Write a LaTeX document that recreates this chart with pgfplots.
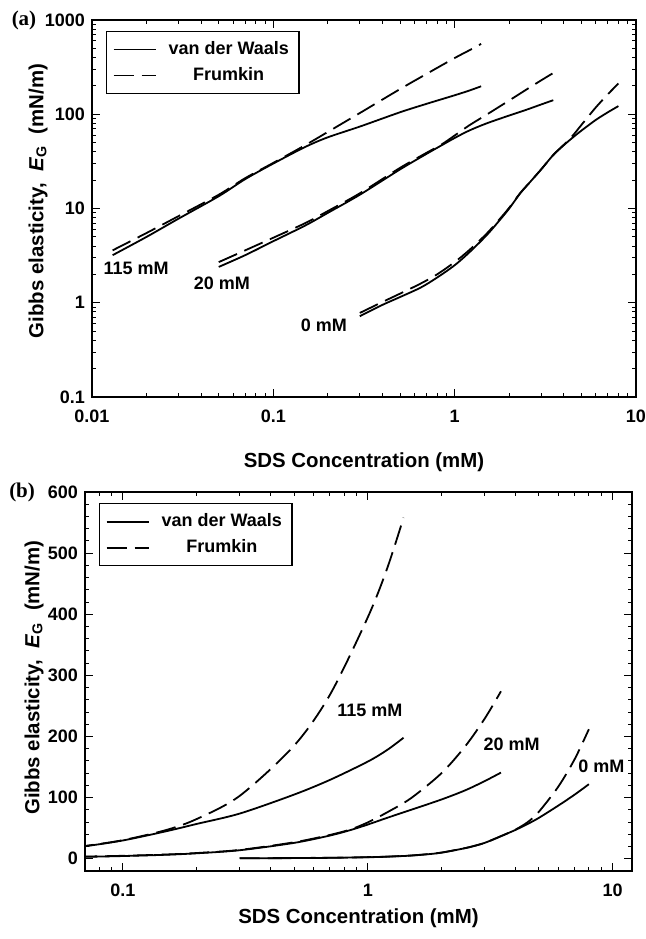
\documentclass[border=0pt]{standalone}
\usepackage{pgfplots}
\usepackage{pgfplotstable}
\pgfplotsset{compat=1.18}
\usepackage{fontspec}
\setmainfont{Liberation Sans}
\newfontfamily\serifbf{Liberation Serif}

% 115 mM
\pgfplotstableread{
x y
0.013 3.2
0.02 5.0
0.03 7.8
0.05 13.5
0.07 20.5
0.1 30
0.15 45
0.2 57
0.3 74
0.5 105
0.7 129
1.0 159
1.2 178
1.4 198
}\vdwA
\pgfplotstableread{
x y
0.013 3.6
0.02 5.5
0.03 8.3
0.05 14
0.07 21
0.1 30.5
0.15 47
0.2 65
0.3 103
0.5 185
0.7 268
1.0 395
1.2 475
1.4 558
}\frkA
% 20 mM
\pgfplotstableread{
x y
0.05 2.4
0.07 3.2
0.1 4.5
0.15 6.6
0.2 9.0
0.3 14
0.5 26
0.7 38
0.85 47
1.0 56
1.2 67
1.5 80
2.0 97
2.5 112
3.0 127
3.5 141
}\vdwB
\pgfplotstableread{
x y
0.05 2.7
0.07 3.6
0.1 4.9
0.15 7.0
0.2 9.4
0.3 14.5
0.5 27
0.7 39
0.85 48
1.0 59.5
1.2 76
1.5 99
2.0 140
2.5 184
3.0 229
3.5 274
}\frkB
% 0 mM
\pgfplotstableread{
x y
0.3 0.72
0.4 0.95
0.5 1.15
0.65 1.45
0.8 1.85
1.0 2.5
1.2 3.4
1.5 5.2
1.8 7.8
2.0 10
2.3 14.5
2.6 19
3.0 26
3.5 37
4.0 47
4.5 57
5.0 67
6.0 87
7.0 105
8.0 122
}\vdwC
\pgfplotstableread{
x y
0.3 0.78
0.4 1.02
0.5 1.25
0.65 1.6
0.8 2.0
1.0 2.7
1.2 3.6
1.5 5.4
1.8 8.0
2.0 10.2
2.3 14.6
2.6 19
3.0 26
3.5 37
4.0 47.5
4.5 60
5.0 77
6.0 118
7.0 163
8.0 212
}\frkC

\pgfplotsset{
  gibbs/.style={
    scale only axis,
    clip mode=individual,
    tick align=inside,
    major tick length=4pt, minor tick length=2pt,
    every tick/.style={black, line width=0.5pt},
    axis line style={line width=0.8pt},
    tick label style={font=\fontsize{9}{10}\selectfont\bfseries},
    xticklabel style={yshift=-3pt},
    label style={font=\fontsize{10.2}{12}\selectfont\bfseries},
    ylabel={Gibbs elasticity,\ \ \textit{E}\textsubscript{G}\ \ (mN/m)},
    xlabel={SDS Concentration (mM)},
    legend cell align=center,
    legend style={draw=black, line width=0.6pt, anchor=north west,
      font=\fontsize{9}{10}\selectfont\bfseries,
      inner xsep=3pt, inner ysep=3pt, row sep=1pt, column sep=4pt},
    legend image code/.code={\draw[##1] (0pt,0pt) -- (21pt,0pt);},
  },
  vline/.style={black, line width=0.9pt, smooth},
  fline/.style={black, line width=0.9pt, smooth, dash pattern=on 10pt off 4pt},
}

\begin{document}
\begin{tikzpicture}
\useasboundingbox (0,0) rectangle (322.5pt,-469.5pt);

% (a) log-log
\begin{loglogaxis}[gibbs,
  at={(46pt,-198.5pt)}, anchor=south west,
  width=272pt, height=188.5pt,
  xmin=0.01, xmax=10, ymin=0.1, ymax=1000,
  xtick={0.01,0.1,1,10}, xticklabels={0.01,0.1,1,10},
  ytick={0.1,1,10,100,1000}, yticklabels={0.1,1,10,100,1000},
  minor xtick={0.02,0.03,0.04,0.05,0.06,0.07,0.08,0.09,0.2,0.3,0.4,0.5,0.6,0.7,0.8,0.9,2,3,4,5,6,7,8,9},
  minor ytick={0.2,0.3,0.4,0.5,0.6,0.7,0.8,0.9,2,3,4,5,6,7,8,9,20,30,40,50,60,70,80,90,200,300,400,500,600,700,800,900},
  xlabel style={at={(axis description cs:0.5,0)}, anchor=center, yshift=-32.5pt},
  ylabel style={at={(axis description cs:-0.099,0.52)}, anchor=center},
  legend style={at={(axis description cs:0.026,0.971)}},
]
\addlegendimage{vline}
\addlegendimage{fline}
\addplot[vline, forget plot] table {\vdwA};
\addplot[fline, forget plot] table {\frkA};
\addplot[vline, forget plot] table {\vdwB};
\addplot[fline, forget plot] table {\frkB};
\addplot[vline, forget plot] table {\vdwC};
\addplot[fline, forget plot] table {\frkC};
\legend{van der Waals, Frumkin}
\node[font=\fontsize{9}{10}\selectfont\bfseries] at (axis cs:0.0175,2.3) {115 mM};
\node[font=\fontsize{9}{10}\selectfont\bfseries] at (axis cs:0.052,1.6) {20 mM};
\node[font=\fontsize{9}{10}\selectfont\bfseries] at (axis cs:0.19,0.58) {0 mM};
\node[font=\fontsize{10.5}{12}\selectfont\serifbf\bfseries] at (axis description cs:-0.125,1) {(a)};
\end{loglogaxis}

% (b) semilog
\begin{semilogxaxis}[gibbs,
  at={(42.5pt,-435.5pt)}, anchor=south west,
  width=273.5pt, height=189.5pt,
  xmin=0.07, xmax=12, ymin=-20, ymax=600,
  xtick={0.1,1,10}, xticklabels={0.1,1,10},
  minor xtick={0.07,0.08,0.09,0.2,0.3,0.4,0.5,0.6,0.7,0.8,0.9,2,3,4,5,6,7,8,9},
  ytick={0,100,200,300,400,500,600},
  yticklabels={0,100,200,300,400,500,600},
  minor ytick={20,40,60,80,120,140,160,180,220,240,260,280,320,340,360,380,420,440,460,480,520,540,560,580},
  xlabel style={at={(axis description cs:0.5,0)}, anchor=center, yshift=-23.5pt},
  ylabel style={at={(axis description cs:-0.093,0.51)}, anchor=center},
  legend style={at={(axis description cs:0.026,0.971)}},
]
\addlegendimage{vline}
\addlegendimage{fline}
\addplot[vline, forget plot] table {\vdwA};
\addplot[fline, forget plot] table {\frkA};
\addplot[vline, forget plot] table {\vdwB};
\addplot[fline, forget plot] table {\frkB};
\addplot[vline, forget plot] table {\vdwC};
\addplot[fline, forget plot] table {\frkC};
\legend{van der Waals, Frumkin}
\node[font=\fontsize{9}{10}\selectfont\bfseries] at (axis cs:1.02,243) {115 mM};
\node[font=\fontsize{9}{10}\selectfont\bfseries] at (axis cs:3.87,187) {20 mM};
\node[font=\fontsize{9}{10}\selectfont\bfseries] at (axis cs:9.0,151) {0 mM};
\node[font=\fontsize{10.5}{12}\selectfont\serifbf\bfseries] at (axis description cs:-0.115,1) {(b)};
\end{semilogxaxis}
\end{tikzpicture}
\end{document}
